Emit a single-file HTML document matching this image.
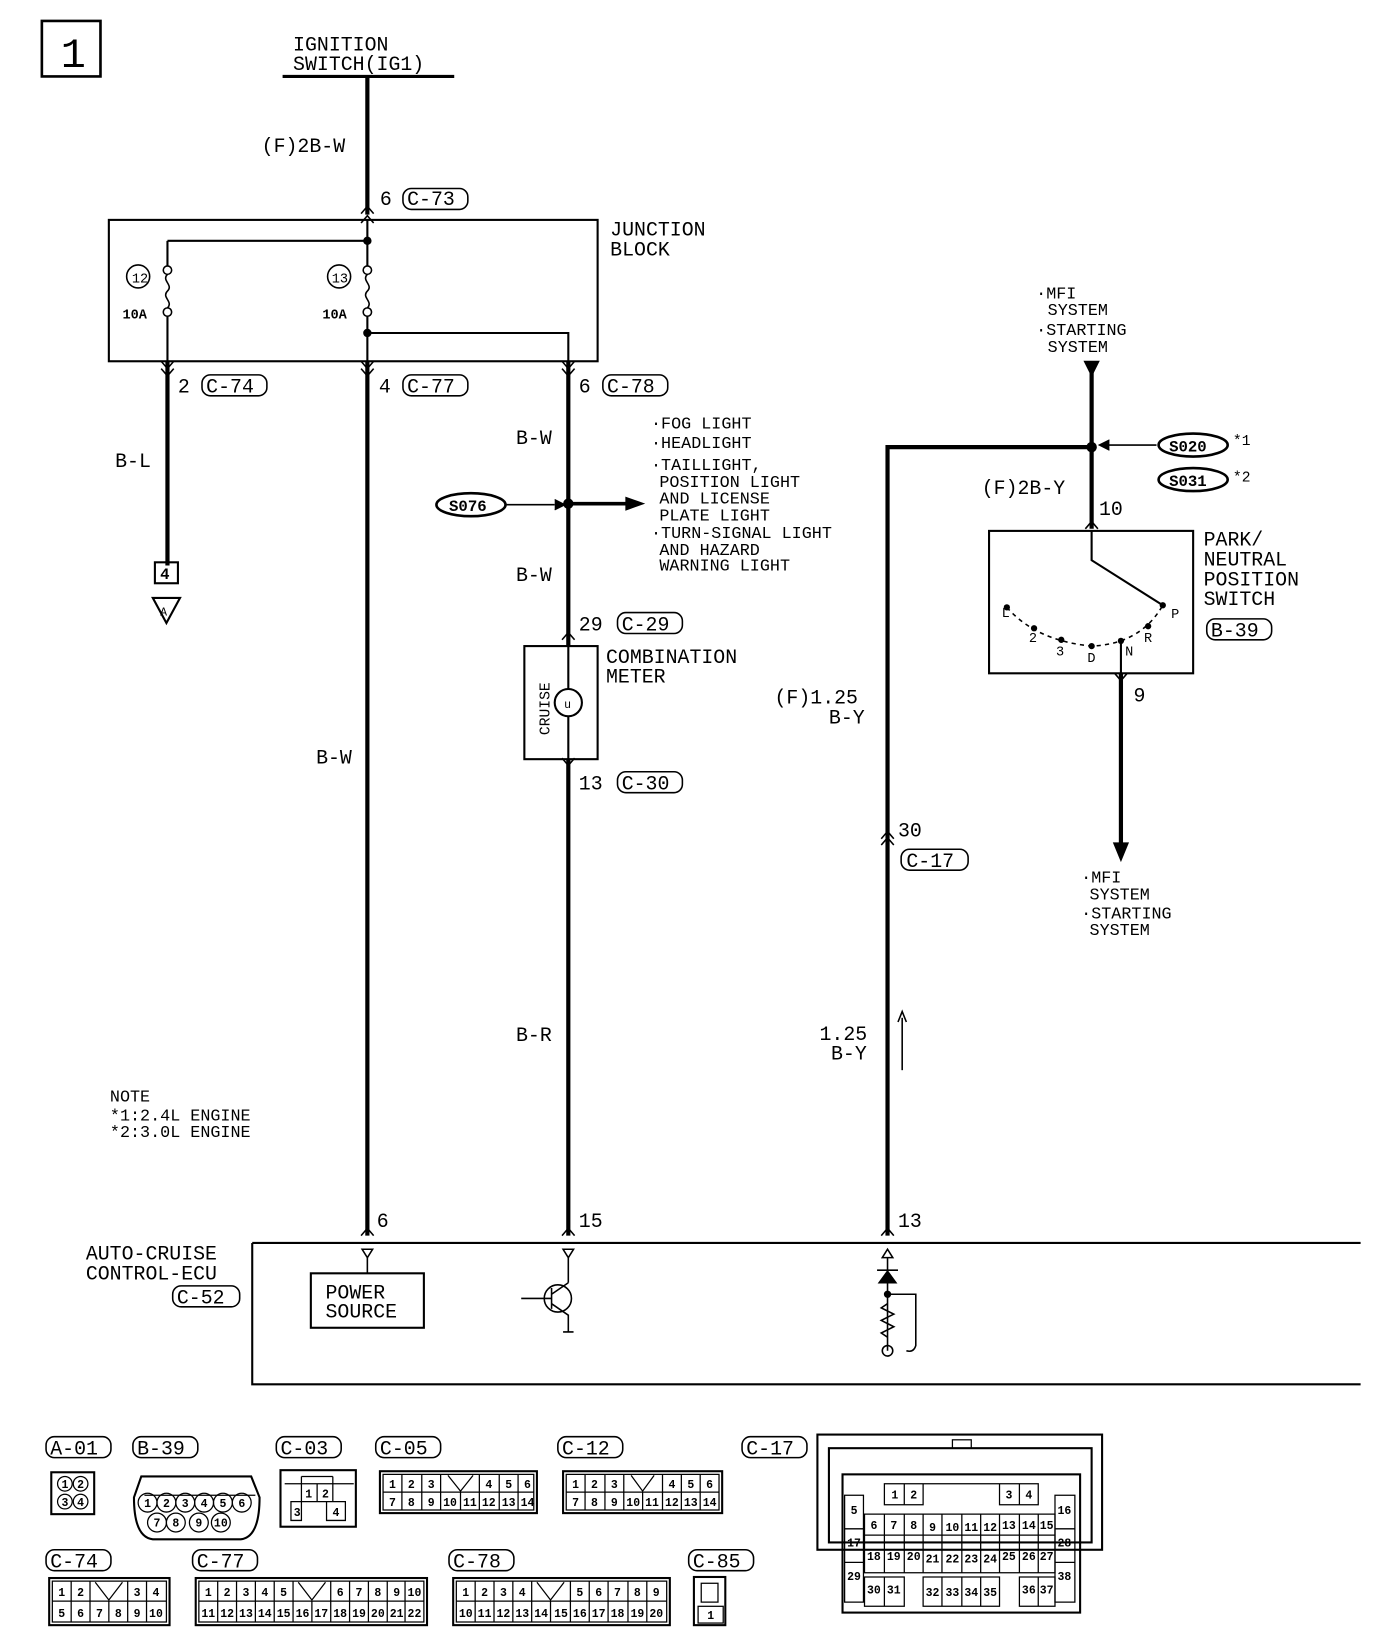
<!DOCTYPE html>
<html><head><meta charset="utf-8"><style>
html,body{margin:0;padding:0;background:#fff}
svg{display:block}
text{font-family:"Liberation Mono","DejaVu Sans Mono",monospace;fill:#000}
.t{font-size:19px}
.s{font-size:16px}
.c{font-size:11px;font-weight:bold;text-anchor:middle}
</style></head><body>
<svg width="1392" height="1644" viewBox="0 0 1330 1570" preserveAspectRatio="none" xmlns="http://www.w3.org/2000/svg">
<g fill="none" stroke="#000">
<rect x="40" y="20" width="56" height="53" stroke-width="2.5"/>
<line x1="270" y1="73" x2="434" y2="73" stroke-width="3"/>
<path d="M351 73V205M160 345V540M351 345V1180M543 345V617M543 725V1180M848 1180V427H1043M1043 345V505M1071 643V810" stroke-width="4"/>
<rect x="104" y="210" width="467" height="135" stroke-width="2"/>
<path d="M351 210V255M160 230H351M160 230V255M160 298V345M351 298V345M351 318H543V345" stroke-width="2"/>
<path d="M160 262c-6 6 6 10 0 16s6 10 0 16M351 262c-6 6 6 10 0 16s6 10 0 16" stroke-width="1.5"/>
<circle cx="160" cy="258" r="4" fill="#fff" stroke-width="1.5"/><circle cx="160" cy="298" r="4" fill="#fff" stroke-width="1.5"/>
<circle cx="351" cy="258" r="4" fill="#fff" stroke-width="1.5"/><circle cx="351" cy="298" r="4" fill="#fff" stroke-width="1.5"/>
<circle cx="132" cy="264" r="11" stroke-width="1.5"/><circle cx="324" cy="264" r="11" stroke-width="1.5"/>
<path d="M345 204l6-7 6 7M345 213l6-7 6 7M154 345l6 7 6-7M154 352l6 7 6-7M345 345l6 7 6-7M345 352l6 7 6-7M537 345l6 7 6-7M537 352l6 7 6-7M537 611l6-7 6 7M537 724l6 7 6-7M1037 505l6-7 6 7M1065 643l6 7 6-7M842 807l6-7 6 7M842 801l6-7 6 7M345 1180l6-7 6 7M537 1180l6-7 6 7M842 1180l6-7 6 7" stroke-width="1.5"/>
<rect x="148" y="537" width="22" height="20" stroke-width="2"/>
<path d="M146 571h26l-13 24z" stroke-width="2"/>
<ellipse cx="450" cy="482" rx="33" ry="11" stroke-width="2.5"/>
<path d="M484 482H530" stroke-width="1.5"/><path d="M530 477l10 5-10 5" fill="#000" stroke-width="1"/>
<path d="M543 481H600" stroke-width="3.5"/><path d="M598 475l17 6-17 6z" fill="#000" stroke-width="1"/>
<rect x="501" y="617" width="70" height="108" stroke-width="2"/>
<path d="M543 617V658M543 684V725" stroke-width="2"/>
<circle cx="543" cy="671" r="13" stroke-width="2"/>
<path d="M1043 345V355" stroke-width="4"/><path d="M1036 345h14l-7 14z" fill="#000"/>
<path d="M1105 425H1058" stroke-width="1.5"/><path d="M1060 420l-10 5 10 5" fill="#000" stroke-width="1"/>
<ellipse cx="1140" cy="425" rx="33" ry="11" stroke-width="2.5"/>
<ellipse cx="1140" cy="458" rx="33" ry="11" stroke-width="2.5"/>
<rect x="945" y="507" width="195" height="136" stroke-width="2"/>
<path d="M1043 507V535L1111 578" stroke-width="2"/>
<path d="M962 580Q990 612 1043 617Q1090 615 1111 578" stroke-width="1.5" stroke-dasharray="4 4"/>
<path d="M1071 612V643" stroke-width="2"/>
<path d="M1064 805l7 17 7-17z" fill="#000"/>
<path d="M862 1022V972" stroke-width="1.5"/><path d="M858 976l4-10 4 10" stroke-width="1.5"/>
<path d="M241 1187H1300M241 1187V1322H1300" stroke-width="2"/>
<path d="M346 1193h10l-5 8zM538 1193h10l-5 8zM843 1201h10l-5-8z" stroke-width="1.5"/>
<path d="M351 1201V1216M543 1201V1225M848 1201V1290" stroke-width="1.5"/>
<rect x="297" y="1216" width="108" height="52" stroke-width="2"/>
<circle cx="533" cy="1240" r="13" stroke-width="1.5"/>
<path d="M498 1240H527M527 1230V1250M527 1236L543 1225M527 1245L543 1256V1272M538 1272h10" stroke-width="1.5"/>
<path d="M838 1213h20M840 1225h16l-8-11z" fill="#000" stroke-width="1.5"/>
<circle cx="848" cy="1236" r="3" fill="#000"/>
<path d="M848 1236H875V1285Q873 1292 866 1290M848 1245l-6 4 12 6-12 6 12 6-12 6 6 4" stroke-width="1.5"/>
<circle cx="848" cy="1290" r="5" stroke-width="1.5"/>
<g stroke-width="1.5">
<rect x="385" y="180" width="62" height="20" rx="8"/>
<rect x="193" y="358" width="62" height="20" rx="8"/><rect x="385" y="358" width="62" height="20" rx="8"/><rect x="576" y="358" width="62" height="20" rx="8"/>
<rect x="590" y="585" width="62" height="20" rx="8"/><rect x="590" y="737" width="62" height="20" rx="8"/>
<rect x="861" y="811" width="64" height="20" rx="8"/><rect x="1153" y="591" width="62" height="20" rx="8"/>
<rect x="165" y="1228" width="64" height="20" rx="8"/>
<rect x="44" y="1372" width="62" height="20" rx="8"/><rect x="127" y="1372" width="62" height="20" rx="8"/><rect x="264" y="1372" width="62" height="20" rx="8"/><rect x="359" y="1372" width="62" height="20" rx="8"/><rect x="533" y="1372" width="62" height="20" rx="8"/><rect x="709" y="1372" width="62" height="20" rx="8"/>
<rect x="44" y="1480" width="62" height="20" rx="8"/><rect x="184" y="1480" width="62" height="20" rx="8"/><rect x="429" y="1480" width="62" height="20" rx="8"/><rect x="658" y="1480" width="62" height="20" rx="8"/>
</g>
<g stroke-width="2">
<rect x="49" y="1406" width="41" height="40"/>
<path d="M135 1410H240L248 1430Q248 1468 230 1470H146Q128 1468 128 1430Z"/>
<rect x="268" y="1404" width="72" height="54"/>
<rect x="363" y="1405" width="150" height="40"/>
<rect x="538" y="1405" width="152" height="40"/>
<rect x="47" y="1507" width="115" height="45"/>
<rect x="187" y="1507" width="221" height="45"/>
<rect x="433" y="1507" width="207" height="45"/>
<rect x="663" y="1506" width="30" height="46"/>
<rect x="781" y="1370" width="272" height="110"/>
<rect x="792" y="1383" width="251" height="90"/>
<rect x="805" y="1408" width="227" height="132"/>
</g>
<g stroke-width="1.2">
<circle cx="62" cy="1417" r="7"/><circle cx="77" cy="1417" r="7"/><circle cx="62" cy="1434" r="7"/><circle cx="77" cy="1434" r="7"/>
<path d="M138 1428H244"/>
<circle cx="141" cy="1435" r="9"/><circle cx="159" cy="1435" r="9"/><circle cx="177" cy="1435" r="9"/><circle cx="195" cy="1435" r="9"/><circle cx="213" cy="1435" r="9"/><circle cx="231" cy="1435" r="9"/>
<circle cx="150" cy="1454" r="9"/><circle cx="168" cy="1454" r="9"/><circle cx="190" cy="1454" r="9"/><circle cx="211" cy="1454" r="9"/>
<path d="M272 1417H338M288 1410V1417M318 1410V1417M288 1410H318M288 1417V1434H318V1417M303 1417V1434M278 1434H288V1452H278ZM312 1434H330V1452H312Z"/>
<path d="M366 1408H510V1442H366ZM366 1425H510M384 1408V1442M403 1408V1442M421 1408V1442M440 1425V1442M458 1408V1442M477 1408V1442M495 1408V1442M428 1409L440 1424L452 1409"/>
<path d="M541 1408H687V1442H541ZM541 1425H687M559 1408V1442M578 1408V1442M596 1408V1442M614 1425V1442M633 1408V1442M651 1408V1442M669 1408V1442M603 1409L614 1424L625 1409"/>
<path d="M50 1510H159V1549H50ZM50 1529H159M68 1510V1549M86 1510V1549M104 1529V1549M122 1510V1549M140 1510V1549M91 1511L104 1528L117 1511"/>
<path d="M190 1510H405V1549H190ZM190 1529H405M208 1510V1549M226 1510V1549M244 1510V1549M262 1510V1549M280 1510V1549M298 1529V1549M316 1510V1549M334 1510V1549M352 1510V1549M370 1510V1549M387 1510V1549M285 1511L298 1528L311 1511"/>
<path d="M436 1510H637V1549H436ZM436 1529H637M454 1510V1549M472 1510V1549M490 1510V1549M508 1510V1549M526 1529V1549M545 1510V1549M563 1510V1549M581 1510V1549M600 1510V1549M618 1510V1549M513 1511L526 1528L539 1511"/>
<rect x="670" y="1512" width="16" height="18"/><rect x="667" y="1534" width="24" height="16"/>
<path d="M807 1428H825V1530H807ZM1008 1428H1027V1530H1008ZM807 1460H825M807 1492H825M1008 1460H1027M1008 1492H1027"/>
<path d="M845 1417H882V1437H845ZM864 1417V1437M955 1417H992V1437H955ZM974 1417V1437M882 1417H955V1437"/>
<path d="M826 1446H1008V1502H826ZM826 1466H1008M845 1446V1502M864 1446V1502M882 1446V1502M900 1446V1502M919 1446V1502M937 1446V1502M955 1446V1502M974 1446V1502M992 1446V1502"/>
<path d="M826 1506H864V1534H826ZM845 1506V1534M882 1506H955V1534H882ZM900 1506V1534M919 1506V1534M937 1506V1534M974 1506H1008V1534H974ZM992 1506V1534"/>
<rect x="910" y="1375" width="18" height="8"/>
</g>
</g>
<g fill="#000">
<circle cx="351" cy="230" r="4"/><circle cx="351" cy="318" r="4"/><circle cx="543" cy="481" r="5"/><circle cx="1043" cy="427" r="5"/>
<circle cx="962" cy="580" r="3"/><circle cx="988" cy="600" r="3"/><circle cx="1014" cy="611" r="3"/><circle cx="1043" cy="617" r="3"/><circle cx="1071" cy="612" r="3"/><circle cx="1097" cy="598" r="3"/><circle cx="1111" cy="578" r="3"/>
</g>
<text x="58" y="64" style="font-size:40px">1</text>
<text class="t" x="280" y="48">IGNITION</text><text class="t" x="280" y="67">SWITCH(IG1)</text>
<text class="t" x="250" y="145">(F)2B-W</text>
<text class="t" x="363" y="196">6</text><text class="t" x="389" y="196">C-73</text>
<text class="t" x="583" y="225">JUNCTION</text><text class="t" x="583" y="244">BLOCK</text>
<text x="126" y="270" style="font-size:13px">12</text><text x="317" y="270" style="font-size:13px">13</text>
<text x="117" y="304" style="font-size:13px;font-weight:bold">10A</text><text x="308" y="304" style="font-size:13px;font-weight:bold">10A</text>
<text class="t" x="170" y="375">2</text><text class="t" x="197" y="375">C-74</text>
<text class="t" x="362" y="375">4</text><text class="t" x="389" y="375">C-77</text>
<text class="t" x="553" y="375">6</text><text class="t" x="580" y="375">C-78</text>
<text class="t" x="110" y="446">B-L</text>
<text x="153" y="553" style="font-size:15px;font-weight:bold">4</text>
<text x="153" y="588" style="font-size:11px">A</text>
<text class="t" x="493" y="424">B-W</text><text class="t" x="493" y="555">B-W</text>
<text x="429" y="488" style="font-size:15px;font-weight:bold">S076</text>
<text class="s" x="622" y="409">·FOG LIGHT</text><text class="s" x="622" y="428">·HEADLIGHT</text>
<text class="s" x="622" y="449">·TAILLIGHT,</text><text class="s" x="630" y="465">POSITION LIGHT</text><text class="s" x="630" y="481">AND LICENSE</text><text class="s" x="630" y="497">PLATE LIGHT</text>
<text class="s" x="622" y="514">·TURN-SIGNAL LIGHT</text><text class="s" x="630" y="530">AND HAZARD</text><text class="s" x="630" y="545">WARNING LIGHT</text>
<text class="t" x="553" y="602">29</text><text class="t" x="594" y="602">C-29</text>
<text class="t" x="579" y="633">COMBINATION</text><text class="t" x="579" y="652">METER</text>
<text x="0" y="0" style="font-size:14px" transform="translate(525,702) rotate(-90)">CRUISE</text>
<text x="539" y="676" style="font-size:11px">u</text>
<text class="t" x="553" y="754">13</text><text class="t" x="594" y="754">C-30</text>
<text class="t" x="302" y="729">B-W</text><text class="t" x="493" y="994">B-R</text>
<text class="s" x="990" y="285">·MFI</text><text class="s" x="1001" y="301">SYSTEM</text><text class="s" x="990" y="320">·STARTING</text><text class="s" x="1001" y="336">SYSTEM</text>
<text x="1117" y="431" style="font-size:15px;font-weight:bold">S020</text><text x="1178" y="425" style="font-size:14px">*1</text>
<text x="1117" y="464" style="font-size:15px;font-weight:bold">S031</text><text x="1178" y="460" style="font-size:14px">*2</text>
<text class="t" x="938" y="472">(F)2B-Y</text><text class="t" x="1050" y="492">10</text>
<text class="t" x="1150" y="521">PARK/</text><text class="t" x="1150" y="540">NEUTRAL</text><text class="t" x="1150" y="559">POSITION</text><text class="t" x="1150" y="578">SWITCH</text>
<text class="t" x="1157" y="608">B-39</text>
<text x="957" y="589" style="font-size:13px">L</text><text x="983" y="613" style="font-size:13px">2</text><text x="1009" y="626" style="font-size:13px">3</text><text x="1039" y="632" style="font-size:13px">D</text><text x="1075" y="626" style="font-size:13px">N</text><text x="1093" y="613" style="font-size:13px">R</text><text x="1119" y="590" style="font-size:13px">P</text>
<text class="t" x="1083" y="670">9</text>
<text class="s" x="1033" y="843">·MFI</text><text class="s" x="1041" y="859">SYSTEM</text><text class="s" x="1033" y="877">·STARTING</text><text class="s" x="1041" y="893">SYSTEM</text>
<text class="t" x="740" y="672">(F)1.25</text><text class="t" x="792" y="691">B-Y</text>
<text class="t" x="858" y="799">30</text><text class="t" x="866" y="828">C-17</text>
<text class="t" x="783" y="993">1.25</text><text class="t" x="794" y="1012">B-Y</text>
<text class="s" x="105" y="1052">NOTE</text><text class="s" x="105" y="1070">*1:2.4L ENGINE</text><text class="s" x="105" y="1086">*2:3.0L ENGINE</text>
<text class="t" x="360" y="1172">6</text><text class="t" x="553" y="1172">15</text><text class="t" x="858" y="1172">13</text>
<text class="t" x="82" y="1203">AUTO-CRUISE</text><text class="t" x="82" y="1222">CONTROL-ECU</text><text class="t" x="169" y="1245">C-52</text>
<text class="t" x="311" y="1240">POWER</text><text class="t" x="311" y="1258">SOURCE</text>
<text class="t" x="48" y="1389">A-01</text><text class="t" x="131" y="1389">B-39</text><text class="t" x="268" y="1389">C-03</text><text class="t" x="363" y="1389">C-05</text><text class="t" x="537" y="1389">C-12</text><text class="t" x="713" y="1389">C-17</text>
<text class="t" x="48" y="1497">C-74</text><text class="t" x="188" y="1497">C-77</text><text class="t" x="433" y="1497">C-78</text><text class="t" x="662" y="1497">C-85</text>
<text class="c" x="62" y="1421">1</text><text class="c" x="77" y="1421">2</text><text class="c" x="62" y="1438">3</text><text class="c" x="77" y="1438">4</text>
<text class="c" x="141" y="1439">1</text><text class="c" x="159" y="1439">2</text><text class="c" x="177" y="1439">3</text><text class="c" x="195" y="1439">4</text><text class="c" x="213" y="1439">5</text><text class="c" x="231" y="1439">6</text>
<text class="c" x="150" y="1458">7</text><text class="c" x="168" y="1458">8</text><text class="c" x="190" y="1458">9</text><text class="c" x="211" y="1458">10</text>
<text class="c" x="295" y="1430">1</text><text class="c" x="311" y="1430">2</text><text class="c" x="284" y="1448">3</text><text class="c" x="321" y="1448">4</text>
<text class="c" x="375" y="1421">1</text><text class="c" x="393" y="1421">2</text><text class="c" x="412" y="1421">3</text><text class="c" x="467" y="1421">4</text><text class="c" x="486" y="1421">5</text><text class="c" x="504" y="1421">6</text>
<text class="c" x="375" y="1438">7</text><text class="c" x="393" y="1438">8</text><text class="c" x="412" y="1438">9</text><text class="c" x="430" y="1438">10</text><text class="c" x="449" y="1438">11</text><text class="c" x="467" y="1438">12</text><text class="c" x="486" y="1438">13</text><text class="c" x="504" y="1438">14</text>
<text class="c" x="550" y="1421">1</text><text class="c" x="568" y="1421">2</text><text class="c" x="587" y="1421">3</text><text class="c" x="642" y="1421">4</text><text class="c" x="660" y="1421">5</text><text class="c" x="678" y="1421">6</text>
<text class="c" x="550" y="1438">7</text><text class="c" x="568" y="1438">8</text><text class="c" x="587" y="1438">9</text><text class="c" x="605" y="1438">10</text><text class="c" x="623" y="1438">11</text><text class="c" x="642" y="1438">12</text><text class="c" x="660" y="1438">13</text><text class="c" x="678" y="1438">14</text>
<text class="c" x="59" y="1524">1</text><text class="c" x="77" y="1524">2</text><text class="c" x="131" y="1524">3</text><text class="c" x="149" y="1524">4</text>
<text class="c" x="59" y="1544">5</text><text class="c" x="77" y="1544">6</text><text class="c" x="95" y="1544">7</text><text class="c" x="113" y="1544">8</text><text class="c" x="131" y="1544">9</text><text class="c" x="149" y="1544">10</text>
<text class="c" x="199" y="1524">1</text><text class="c" x="217" y="1524">2</text><text class="c" x="235" y="1524">3</text><text class="c" x="253" y="1524">4</text><text class="c" x="271" y="1524">5</text><text class="c" x="325" y="1524">6</text><text class="c" x="343" y="1524">7</text><text class="c" x="361" y="1524">8</text><text class="c" x="379" y="1524">9</text><text class="c" x="396" y="1524">10</text>
<text class="c" x="199" y="1544">11</text><text class="c" x="217" y="1544">12</text><text class="c" x="235" y="1544">13</text><text class="c" x="253" y="1544">14</text><text class="c" x="271" y="1544">15</text><text class="c" x="289" y="1544">16</text><text class="c" x="307" y="1544">17</text><text class="c" x="325" y="1544">18</text><text class="c" x="343" y="1544">19</text><text class="c" x="361" y="1544">20</text><text class="c" x="379" y="1544">21</text><text class="c" x="396" y="1544">22</text>
<text class="c" x="445" y="1524">1</text><text class="c" x="463" y="1524">2</text><text class="c" x="481" y="1524">3</text><text class="c" x="499" y="1524">4</text><text class="c" x="554" y="1524">5</text><text class="c" x="572" y="1524">6</text><text class="c" x="590" y="1524">7</text><text class="c" x="609" y="1524">8</text><text class="c" x="627" y="1524">9</text>
<text class="c" x="445" y="1544">10</text><text class="c" x="463" y="1544">11</text><text class="c" x="481" y="1544">12</text><text class="c" x="499" y="1544">13</text><text class="c" x="517" y="1544">14</text><text class="c" x="536" y="1544">15</text><text class="c" x="554" y="1544">16</text><text class="c" x="572" y="1544">17</text><text class="c" x="590" y="1544">18</text><text class="c" x="609" y="1544">19</text><text class="c" x="627" y="1544">20</text>
<text class="c" x="679" y="1546">1</text>
<text class="c" x="855" y="1431">1</text><text class="c" x="873" y="1431">2</text><text class="c" x="964" y="1431">3</text><text class="c" x="983" y="1431">4</text>
<text class="c" x="816" y="1446">5</text><text class="c" x="1017" y="1446">16</text><text class="c" x="816" y="1477">17</text><text class="c" x="1017" y="1477">28</text><text class="c" x="816" y="1509">29</text><text class="c" x="1017" y="1509">38</text>
<text class="c" x="835" y="1460">6</text><text class="c" x="854" y="1460">7</text><text class="c" x="873" y="1460">8</text><text class="c" x="891" y="1462">9</text><text class="c" x="910" y="1462">10</text><text class="c" x="928" y="1462">11</text><text class="c" x="946" y="1462">12</text><text class="c" x="964" y="1460">13</text><text class="c" x="983" y="1460">14</text><text class="c" x="1000" y="1460">15</text>
<text class="c" x="835" y="1490">18</text><text class="c" x="854" y="1490">19</text><text class="c" x="873" y="1490">20</text><text class="c" x="891" y="1492">21</text><text class="c" x="910" y="1492">22</text><text class="c" x="928" y="1492">23</text><text class="c" x="946" y="1492">24</text><text class="c" x="964" y="1490">25</text><text class="c" x="983" y="1490">26</text><text class="c" x="1000" y="1490">27</text>
<text class="c" x="835" y="1522">30</text><text class="c" x="854" y="1522">31</text><text class="c" x="891" y="1524">32</text><text class="c" x="910" y="1524">33</text><text class="c" x="928" y="1524">34</text><text class="c" x="946" y="1524">35</text><text class="c" x="983" y="1522">36</text><text class="c" x="1000" y="1522">37</text>
</svg>
</body></html>
